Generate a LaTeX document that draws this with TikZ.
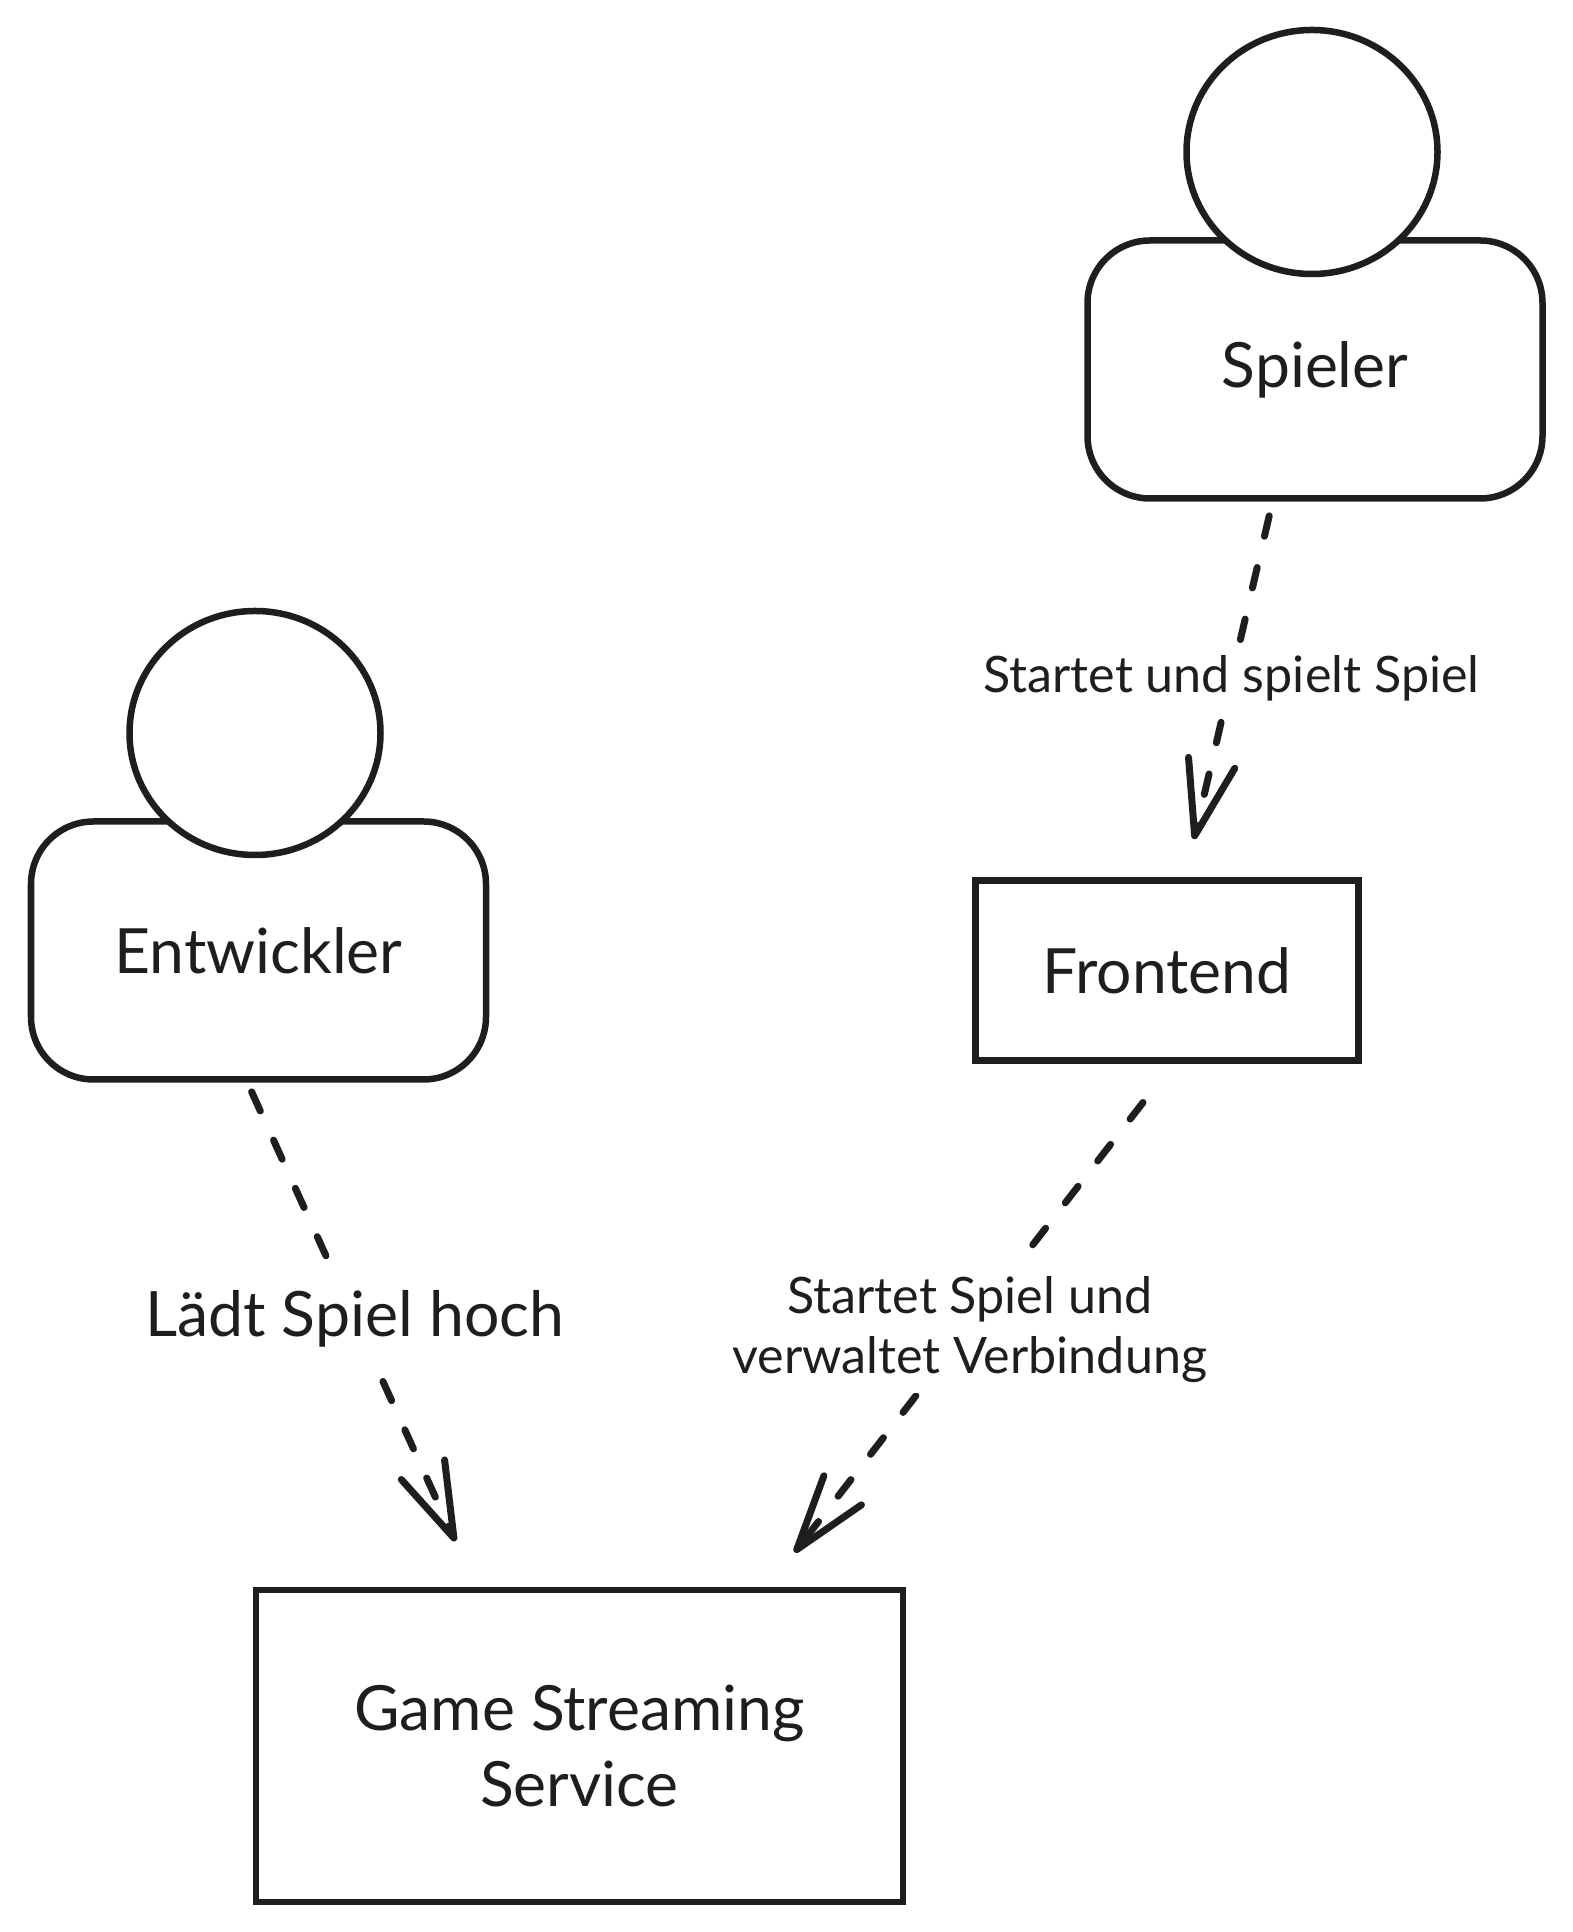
\documentclass[tikz,border=0pt]{standalone}
\usepackage{fontspec}
\setmainfont{Lato}
\usetikzlibrary{shapes, arrows, arrows.meta, positioning, calc}
\definecolor{inkdark}{HTML}{1E1E1E}
\tikzset{
  body/.style={rectangle, draw=inkdark, line width=0.13cm, rounded corners=1.25cm, minimum width=9.1cm, minimum height=5.16cm, text=inkdark, font=\fontsize{35.5}{42}\selectfont},
  head/.style={ellipse, draw=inkdark, fill=white, line width=0.13cm, minimum width=5.02cm, minimum height=4.88cm},
  box/.style={rectangle, draw=inkdark, line width=0.13cm, text=inkdark, align=center, font=\fontsize{35.5}{43}\selectfont},
  flow/.style={draw=inkdark, line width=0.14cm, line cap=round, dash pattern=on 0.42cm off 0.64cm, -{Straight Barb[round, length=1.5cm, width=0.95cm]}},
  flowlabel/.style={fill=white, text=inkdark, inner sep=6pt, align=center, font=\fontsize{28.6}{34}\selectfont},
}
\begin{document}
\begin{tikzpicture}
  \useasboundingbox (0,0) rectangle (31.46,38.64);
  \node[body] (spieler) at (26.30,31.25) {Spieler};
  \node[head] (spielerhead) at (26.24,35.6) {};
  \node[body] (entwickler) at (5.17,19.63) {Entwickler};
  \node[head] (entwicklerhead) at (5.1,23.98) {};
  \node[box, minimum width=7.66cm, minimum height=3.6cm] (frontend) at (23.34,19.23) {Frontend};
  \node[box, minimum width=12.94cm, minimum height=6.24cm] (service) at (11.59,3.72) {Game Streaming\\Service};

  \draw[flow, shorten <=0.29cm, shorten >=0.78cm] ([xshift=-0.85cm]spieler.south) -- node[flowlabel, pos=0.47] (lspieler) {Startet und spielt Spiel} ([xshift=0.36cm]frontend.north);
  \draw[flow, shorten <=0.2cm, shorten >=1.0cm] ([xshift=-0.22cm]entwickler.south) -- node[flowlabel, pos=0.469, font=\fontsize{35.6}{42}\selectfont] (lentwickler) {Lädt Spiel hoch} ([xshift=-2.07cm]service.north);
  \draw[flow, shorten <=0.98cm, shorten >=0.87cm] ([xshift=0.12cm]frontend.south) -- node[flowlabel, pos=0.508, xshift=0.05cm] (lfrontend) {Startet Spiel und\\verwaltet Verbindung} ([xshift=3.77cm]service.north);
\end{tikzpicture}
\end{document}
